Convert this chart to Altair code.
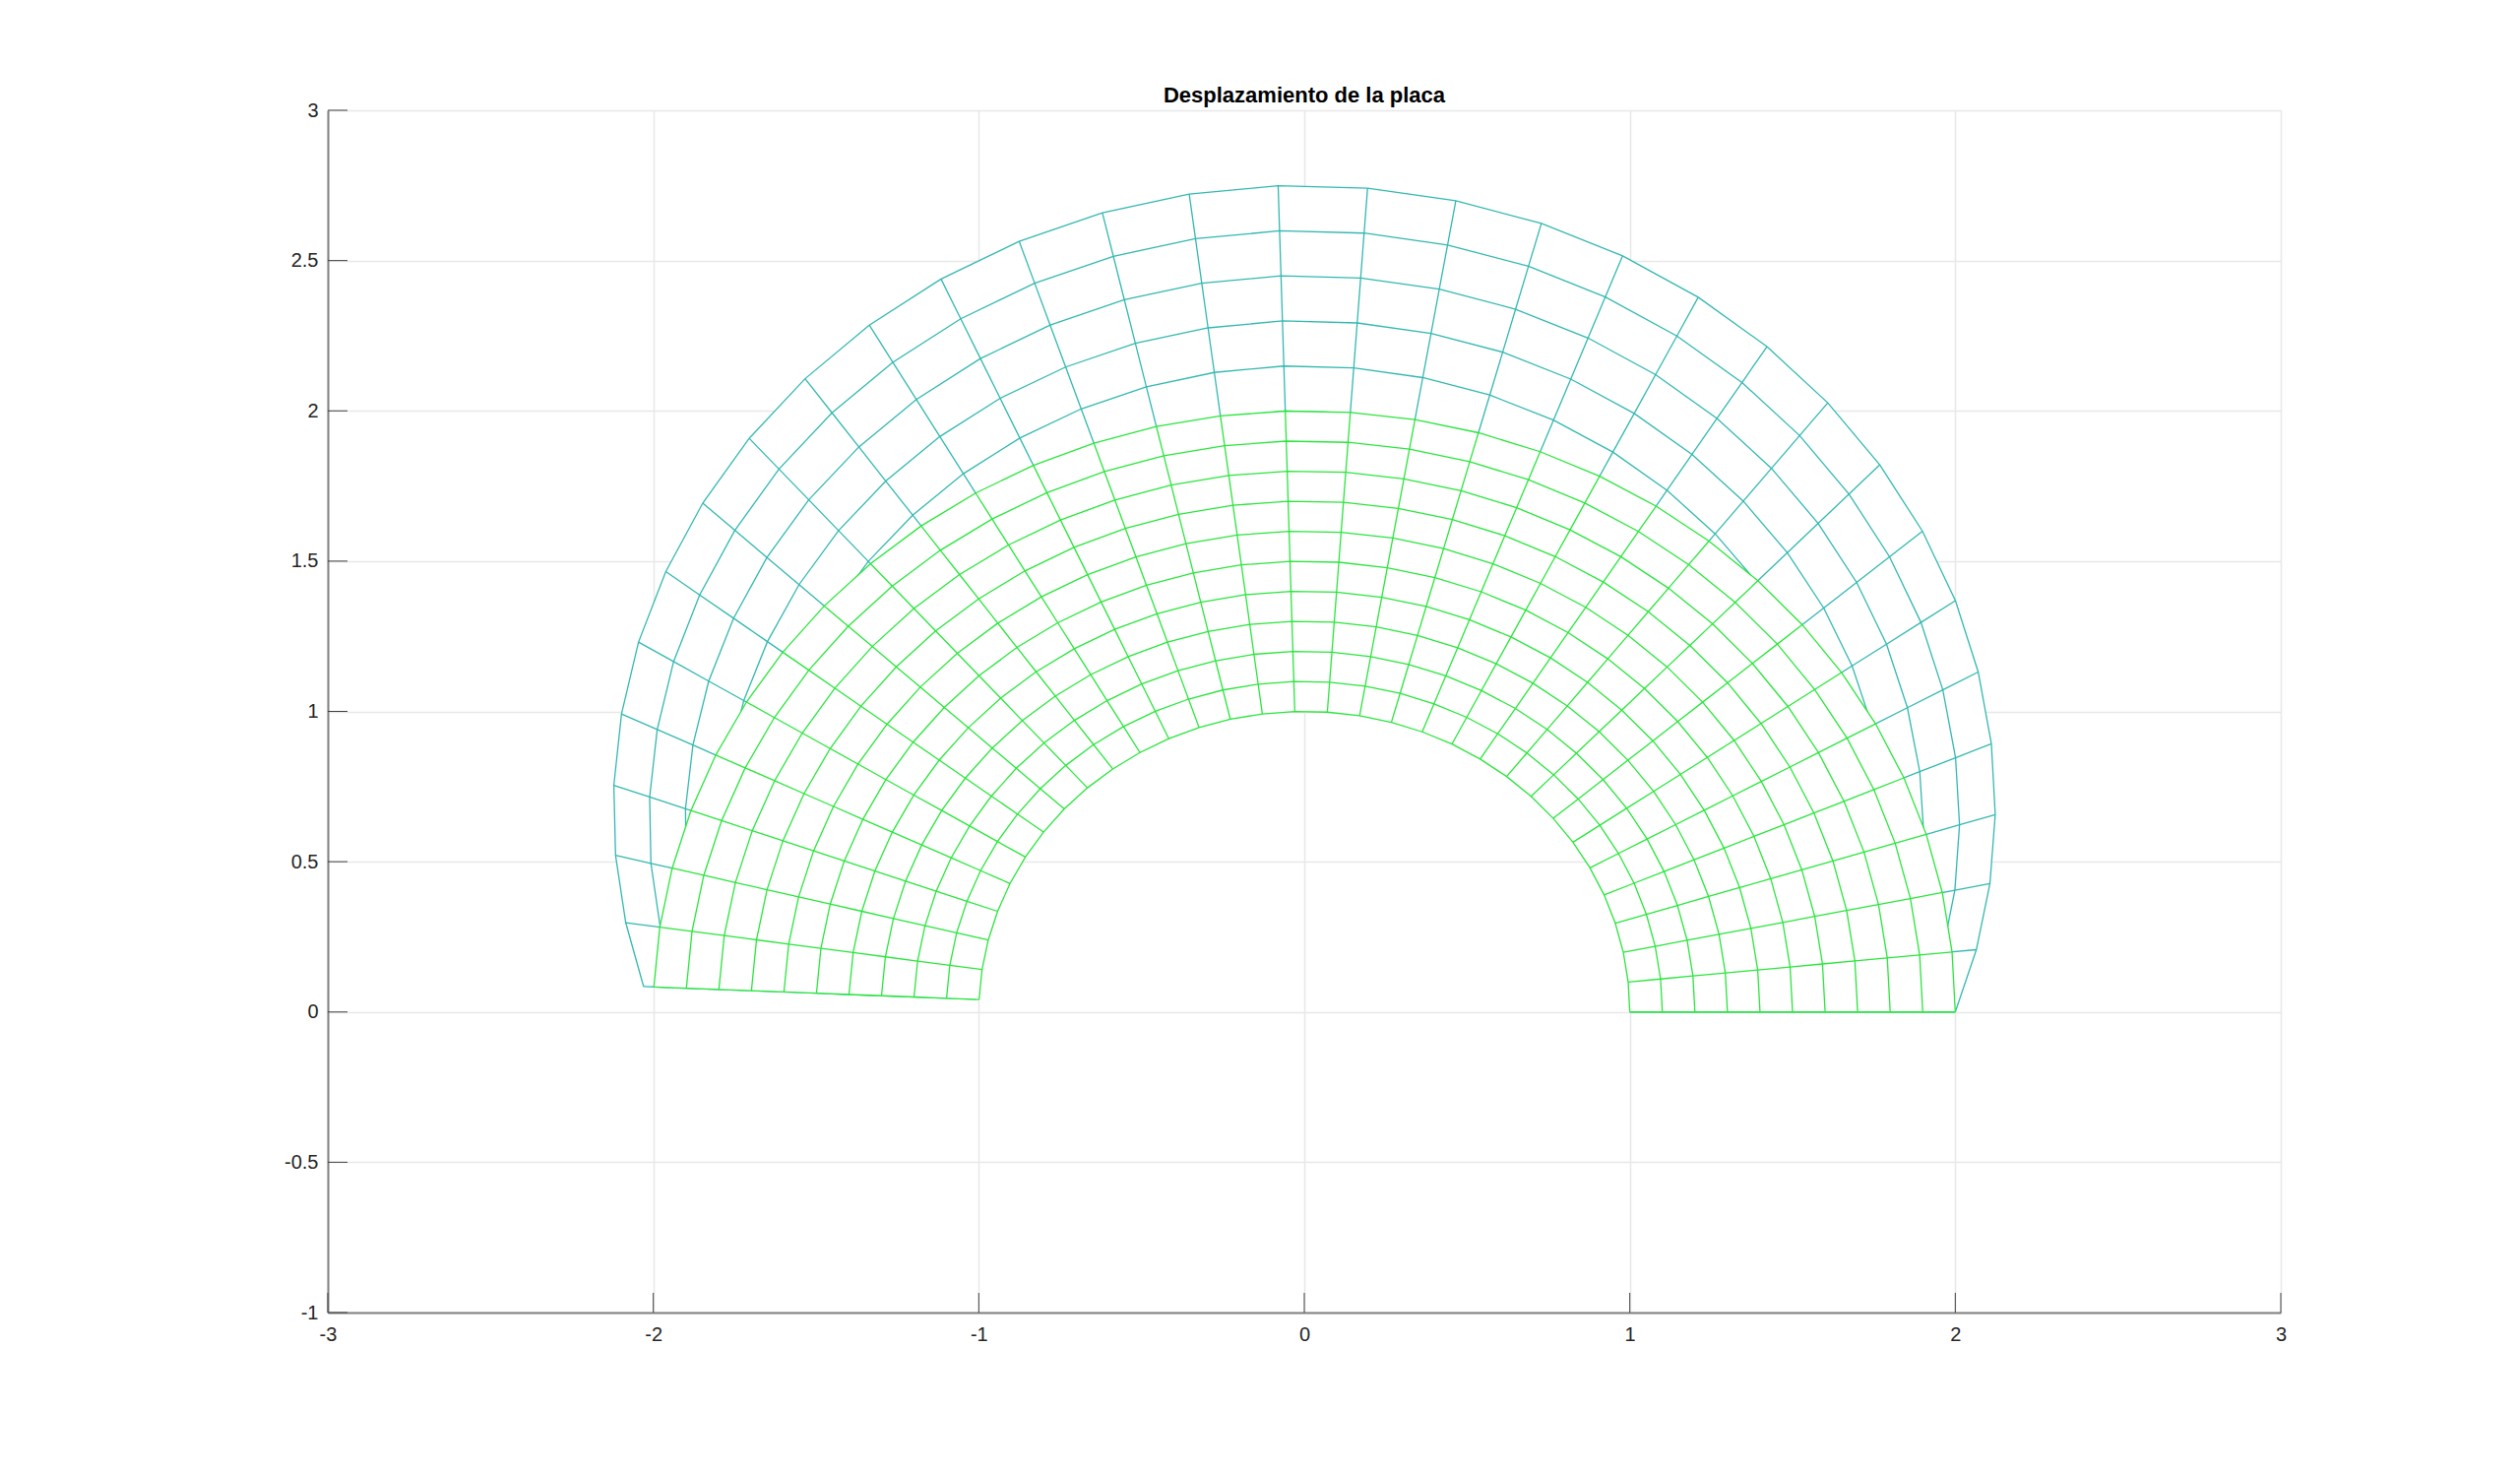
import math
import altair as alt
import pandas as pd

# Values
title_text = "Desplazamiento de la placa"
x_ticks = [-3, -2, -1, 0, 1, 2, 3]
y_ticks = [-1, -0.5, 0, 0.5, 1, 1.5, 2, 2.5, 3]

# Radii of the plate's arcs and angles (rad) of its spokes
radii = [1.0, 1.1, 1.2, 1.3, 1.4, 1.5, 1.6, 1.7, 1.8, 1.9, 2.0]
angles = [0.0, 0.1, 0.2, 0.3, 0.4, 0.5, 0.6, 0.7, 0.8, 0.9, 1.0,
          1.1, 1.2, 1.3, 1.4, 1.5, 1.6, 1.7, 1.8, 1.9, 2.0,
          2.1, 2.2, 2.3, 2.4, 2.5, 2.6, 2.7, 2.8, 2.9, 3.0, 3.1]
# Radial displacement of the displaced plate: amount per arc at the top,
# and share of it reached at each spoke
arc_shift = [0.25, 0.30, 0.35, 0.40, 0.45, 0.50, 0.55, 0.60, 0.65, 0.70, 0.75]
spoke_share = [0.000, 0.100, 0.199, 0.296, 0.389, 0.479, 0.565, 0.644,
               0.717, 0.783, 0.841, 0.891, 0.932, 0.964, 0.985, 0.997,
               1.000, 0.992, 0.974, 0.946, 0.909, 0.863, 0.808, 0.746,
               0.675, 0.598, 0.516, 0.427, 0.335, 0.239, 0.141, 0.042]

GREEN = "#2ae63c"
TEAL = "#33b8b0"
FONT = "Liberation Sans"
W, H = 1984, 1221


def node(i, j, shifted):
    r = radii[i] + (arc_shift[i] * spoke_share[j] if shifted else 0.0)
    return r * math.cos(angles[j]), r * math.sin(angles[j])


def mesh(shifted):
    rows = []
    for i in range(len(radii)):
        for j in range(len(angles)):
            x, y = node(i, j, shifted)
            rows.append(dict(line=f"a{i}", k=j, x=x, y=y))
    for j in range(len(angles)):
        for i in range(len(radii)):
            x, y = node(i, j, shifted)
            rows.append(dict(line=f"s{j}", k=i, x=x, y=y))
    return pd.DataFrame(rows)


def outline(shifted):
    rows = []
    last = len(radii) - 1
    for j in range(len(angles)):
        x, y = node(last, j, shifted)
        rows.append(dict(k=len(rows), x=x, y=y))
    for j in reversed(range(len(angles))):
        x, y = node(0, j, False)
        rows.append(dict(k=len(rows), x=x, y=y))
    return pd.DataFrame(rows)


xs = alt.Scale(domain=[-3, 3], nice=False, zero=False)
ys = alt.Scale(domain=[-1, 3], nice=False, zero=False)
axis_common = dict(
    title=None, grid=True, gridColor="#e8e8e8", gridWidth=1.5,
    domainColor="#808080", domainWidth=2, ticks=False,
    labelFont=FONT, labelFontSize=20, labelColor="#262626",
    labelExpr="'' + datum.value",
    labelOverlap=False, labelFlush=False,
)
X = alt.X("x:Q", scale=xs, axis=alt.Axis(values=x_ticks, labelPadding=12, **axis_common))
Y = alt.Y("y:Q", scale=ys, axis=alt.Axis(values=y_ticks, labelPadding=10, **axis_common))


def backing(shifted):
    return alt.Chart(outline(shifted)).mark_line(
        fill="white", strokeWidth=0, clip=False
    ).encode(x=X, y=Y, order="k:Q")


def lines(shifted, color):
    return alt.Chart(mesh(shifted)).mark_line(
        color=color, strokeWidth=1.3
    ).encode(x=X, y=Y, detail="line:N", order="k:Q")


x_tick_marks = alt.Chart(pd.DataFrame({"x": x_ticks})).mark_rule(
    color="#404040", strokeWidth=1
).encode(x=alt.X("x:Q", scale=xs), y=alt.value(H), y2=alt.value(H - 20))
y_tick_marks = alt.Chart(pd.DataFrame({"y": y_ticks})).mark_rule(
    color="#404040", strokeWidth=1
).encode(y=alt.Y("y:Q", scale=ys), x=alt.value(0), x2=alt.value(20))

chart = alt.layer(
    backing(True), lines(True, TEAL),
    backing(False), lines(False, GREEN),
    x_tick_marks, y_tick_marks,
).properties(
    width=W, height=H,
    title=alt.TitleParams(title_text, font=FONT, fontSize=22, fontWeight="bold",
                          color="black", anchor="middle", offset=-7),
    padding={"left": 325, "top": 104, "right": 235, "bottom": 150},
    autosize=alt.AutoSizeParams(type="none"),
    background="white",
).configure_view(stroke=None)

chart.save("out.html", embed_options={"renderer": "svg", "actions": False})
